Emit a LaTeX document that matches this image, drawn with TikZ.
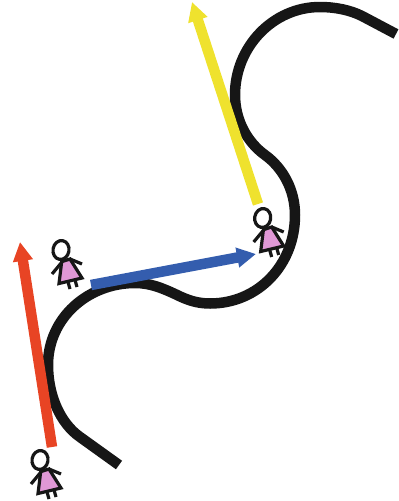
\documentclass[tikz,border=0pt]{standalone}
\usetikzlibrary{arrows.meta}
\definecolor{roadblack}{HTML}{161616}
\definecolor{redarrow}{HTML}{E84424}
\definecolor{bluearrow}{HTML}{345DAE}
\definecolor{yellowarrow}{HTML}{EFE22E}
\definecolor{dress}{HTML}{E098D6}
\tikzset{
  road/.style={draw=roadblack,line width=10.5pt,line join=round},
  walk/.style={line width=10.5pt,-{Triangle[length=19pt,width=19pt]}},
  figline/.style={draw=roadblack,line width=3.2pt},
  girl/.pic={
    \draw[figline] (-9,24) -- (1,12);
    \draw[figline] (21,14) -- (9,9);
    \draw[figline] (6.7,31) -- (9,39);
    \draw[figline] (14,30) -- (16,37);
    \draw[figline,fill=dress,line join=miter] (0.7,11.7) -- (9,9) -- (21,28) -- (-2,33.5) -- cycle;
    \draw[figline,fill=white,rotate=-10] (0,0) ellipse [x radius=8pt,y radius=9.5pt];
  }
}
\begin{document}
\begin{tikzpicture}[x=1pt,y=-1pt]
\useasboundingbox (0,0) rectangle (399,501);
\coordinate (redS) at (52,447);
\coordinate (redE) at (20,242);
\coordinate (blueS) at (91,285);
\coordinate (blueE) at (256,254);
\coordinate (yelS) at (258,204);
\coordinate (yelE) at (192,2);
\draw[road] (119,465) -- (80,437)
  .. controls (60,423) and (48,395) .. (48,365)
  .. controls (48,318) and (88,283) .. (135,283)
  .. controls (150,283) and (162,288) .. (175,294)
  .. controls (187,300) and (197,303.5) .. (210,303.5)
  .. controls (258,303.5) and (295,265) .. (295,215)
  .. controls (295,190) and (283,168) .. (265,155)
  .. controls (247,142) and (235,120) .. (235,95)
  .. controls (235,47) and (273,7) .. (320,7)
  .. controls (335,7) and (350,10) .. (362,16) -- (396,34);
\draw[walk,yellowarrow] (yelS) -- (yelE);
\draw[walk,redarrow] (redS) -- (redE);
\draw[walk,bluearrow] (blueS) -- (blueE);
\pic at (61,250) {girl};
\pic at (262.7,218) {girl};
\pic at (40,460) {girl};
\end{tikzpicture}
\end{document}
